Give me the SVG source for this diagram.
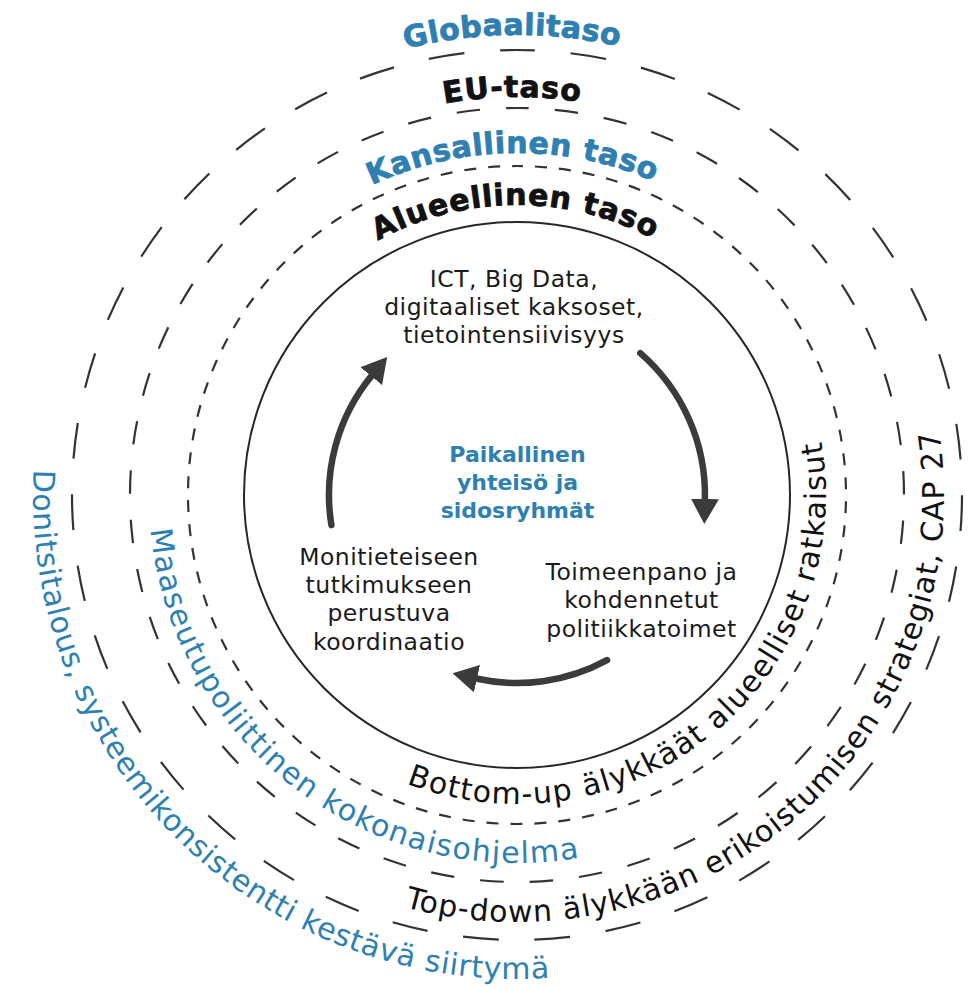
<svg xmlns="http://www.w3.org/2000/svg" width="975" height="987" viewBox="0 0 975 987">
<style>
  .ring{fill:none;stroke:#333;stroke-width:2.2}
  .solid{fill:none;stroke:#262626;stroke-width:2}
  .arrow{fill:none;stroke:#3b3b3b;stroke-width:6.5;stroke-linecap:round}
  .head{font-family:"DejaVu Sans",sans-serif;font-weight:bold;font-size:30px;text-anchor:middle;stroke-width:0.8;stroke-linejoin:round;paint-order:stroke}
  .lbl{font-family:"DejaVu Sans",sans-serif;font-size:30px}
  .body{font-family:"DejaVu Sans",sans-serif;font-size:23.5px;letter-spacing:0.5px;fill:#1a1a1a;text-anchor:middle}
  .core{font-family:"DejaVu Sans",sans-serif;font-weight:bold;font-size:22px;text-anchor:middle}
  .blue{fill:#2e80b1}
  .dark{fill:#111}
  .head.blue{stroke:#2e80b1}
  .head.dark{stroke:#111}
</style>
<defs>
  <path id="pGlob" d="M84.7,337.7 A460,460 0 0 1 949.3,337.7"/>
  <path id="pEU" d="M143,358.9 A398,398 0 0 1 891,358.9"/>
  <path id="pKans" d="M195.6,378 A342,342 0 0 1 838.4,378"/>
  <path id="pAlue" d="M244.5,395.8 A290,290 0 0 1 789.5,395.8"/>
  <path id="pDon" d="M33.7,469.7 A484,484 0 0 0 601,971.6"/>
  <path id="pMaa" d="M150.6,529.6 A368,368 0 0 0 618.4,848.8"/>
  <path id="pBot" d="M406.3,783.5 A309,309 0 0 0 814,409.8"/>
  <path id="pTop" d="M404.3,906.9 A427,427 0 0 0 931.3,391.7"/>
  <marker id="ah" markerUnits="userSpaceOnUse" viewBox="0 0 25 28" refX="1" refY="14" markerWidth="25" markerHeight="28" orient="auto">
    <path d="M0,0 L25,14 L0,28 Z" fill="#3b3b3b"/>
  </marker>
</defs>
<rect width="975" height="987" fill="#ffffff"/>

<g id="ring-global">
  <path class="ring" d="M517,50 A445,445 0 1 1 517,940 A445,445 0 1 1 517,50 Z" stroke-dasharray="35.85 35.85" stroke-dashoffset="17.9"/>
  <text class="head blue"><textPath href="#pGlob" startOffset="557" textLength="215">Globaalitaso</textPath></text>
  <text class="lbl blue"><textPath href="#pDon" startOffset="0" textLength="818">Donitsitalous, systeemikonsistentti kestävä siirtymä</textPath></text>
</g>

<g id="ring-eu">
  <path class="ring" d="M517,108 A387,387 0 1 1 517,882 A387,387 0 1 1 517,108 Z" stroke-dasharray="23.5 26.12" stroke-dashoffset="11.75"/>
  <text class="head dark"><textPath href="#pEU" startOffset="481" textLength="136">EU-taso</textPath></text>
  <text class="lbl dark"><textPath href="#pTop" startOffset="0" textLength="849">Top-down älykkään erikoistumisen strategiat, CAP 27</textPath></text>
</g>

<g id="ring-national">
  <path class="ring" d="M517,166 A329,329 0 1 1 517,824 A329,329 0 1 1 517,166 Z" stroke-dasharray="12 12.04" stroke-dashoffset="6"/>
  <text class="head blue"><textPath href="#pKans" startOffset="413" textLength="290">Kansallinen taso</textPath></text>
  <text class="lbl blue"><textPath href="#pMaa" startOffset="0" textLength="606">Maaseutupoliittinen kokonaisohjelma</textPath></text>
</g>

<g id="ring-regional">
  <circle class="solid" cx="517" cy="495" r="273"/>
  <text class="head dark"><textPath href="#pAlue" startOffset="352" textLength="286">Alueellinen taso</textPath></text>
  <text class="lbl dark"><textPath href="#pBot" startOffset="0" textLength="652">Bottom-up älykkäät alueelliset ratkaisut</textPath></text>
</g>

<g id="node-ict">
  <text class="body" x="514" y="287">ICT, Big Data,</text>
  <text class="body" x="514" y="315">digitaaliset kaksoset,</text>
  <text class="body" x="514" y="343">tietointensiivisyys</text>
</g>

<g id="node-core">
  <text class="core blue" x="517.5" y="462">Paikallinen</text>
  <text class="core blue" x="517.5" y="490">yhteisö ja</text>
  <text class="core blue" x="517.5" y="518">sidosryhmät</text>
</g>

<g id="node-implementation">
  <text class="body" x="641.5" y="580">Toimeenpano ja</text>
  <text class="body" x="641.5" y="608">kohdennetut</text>
  <text class="body" x="641.5" y="637">politiikkatoimet</text>
</g>

<g id="node-coordination">
  <text class="body" x="389" y="565">Monitieteiseen</text>
  <text class="body" x="389" y="593">tutkimukseen</text>
  <text class="body" x="389" y="621">perustuva</text>
  <text class="body" x="389" y="650">koordinaatio</text>
</g>

<g id="connectors">
  <path class="arrow" d="M640.3,353.1 A188,188 0 0 1 704.9,499.9" marker-end="url(#ah)"/>
  <path class="arrow" d="M607,660.1 A188,188 0 0 1 476,678.5" marker-end="url(#ah)"/>
  <path class="arrow" d="M331.4,525.1 A188,188 0 0 1 371.9,375.4" marker-end="url(#ah)"/>
</g>
</svg>
